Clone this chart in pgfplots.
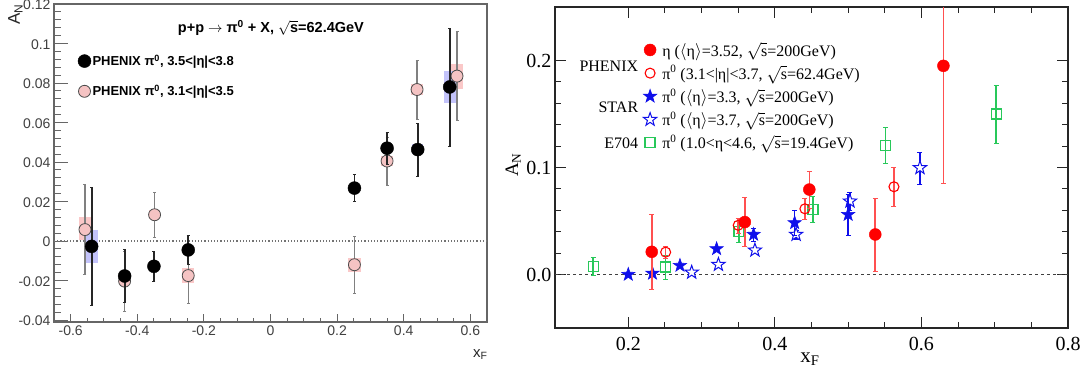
\documentclass[border=0pt]{standalone}
\usepackage{pgfplots}
\pgfplotsset{compat=1.18}
\usepackage{fontspec}
\setmainfont{Liberation Serif}
\newfontfamily\lsans{Liberation Sans}
\newfontfamily\lserif{Liberation Serif}
\usetikzlibrary{calc}
\definecolor{boxpink}{RGB}{250,200,200}
\definecolor{boxblue}{RGB}{195,195,250}
\definecolor{ptpink}{RGB}{245,195,195}
\definecolor{rred}{RGB}{255,0,0}
\definecolor{rerr}{RGB}{255,80,80}
\definecolor{rblue}{RGB}{15,15,235}
\definecolor{rgreen}{RGB}{40,200,90}
\pgfdeclareplotmark{fstar}{%
 \pgfpathmoveto{\pgfpointpolar{90}{\pgfplotmarksize}}%
 \pgfpathlineto{\pgfpointpolar{126}{0.4\pgfplotmarksize}}%
 \pgfpathlineto{\pgfpointpolar{162}{\pgfplotmarksize}}%
 \pgfpathlineto{\pgfpointpolar{198}{0.4\pgfplotmarksize}}%
 \pgfpathlineto{\pgfpointpolar{234}{\pgfplotmarksize}}%
 \pgfpathlineto{\pgfpointpolar{270}{0.4\pgfplotmarksize}}%
 \pgfpathlineto{\pgfpointpolar{306}{\pgfplotmarksize}}%
 \pgfpathlineto{\pgfpointpolar{342}{0.4\pgfplotmarksize}}%
 \pgfpathlineto{\pgfpointpolar{18}{\pgfplotmarksize}}%
 \pgfpathlineto{\pgfpointpolar{54}{0.4\pgfplotmarksize}}%
 \pgfpathclose
 \pgfusepathqfillstroke}

\pgfplotstableread{
x y e
-0.537 -0.0027 0.030
-0.438 -0.0177 0.0135
-0.350 -0.0128 0.0077
-0.247 -0.0045 0.0072
0.252 0.0268 0.0068
0.350 0.0470 0.0080
0.442 0.0463 0.0133
0.538 0.0780 0.0300
}\blackpts
\pgfplotstableread{
x y e
-0.557 0.0058 0.0228
-0.438 -0.0203 0.0150
-0.348 0.0133 0.0113
-0.247 -0.0175 0.0140
0.252 -0.0120 0.0145
0.350 0.0405 0.0120
0.440 0.0767 0.0150
0.560 0.0835 0.0225
}\pinkpts
\pgfplotstableread{
x y e
0.152 0.0078 0.008
0.251 0.0070 0.011
0.351 0.0400 0.010
0.452 0.0610 0.012
0.551 0.1206 0.017
0.702 0.1500 0.027
}\etsf
\pgfplotstableread{
x y e
0.2865 0.0020 0
0.323 0.0093 0
0.3728 0.0227 0
0.429 0.0374 0.004
0.5025 0.0685 0.008
0.598 0.0997 0.015
}\staropen
\pgfplotstableread{
x y e
0.200 0.0000 0
0.233 0.0010 0
0.2705 0.0084 0
0.3205 0.0240 0
0.371 0.0374 0.006
0.427 0.0483 0.012
0.500 0.0560 0.019
}\starfill
\pgfplotstableread{
x y e
0.251 0.0209 0.006
0.350 0.0460 0.007
0.441 0.0614 0.0095
0.5625 0.0820 0.018
}\phxopen
\pgfplotstableread{
x y e
0.232 0.0212 0.035
0.359 0.0490 0.023
0.447 0.0794 0.017
0.537 0.0374 0.034
0.630 0.1950 0.110
}\phxfill

\begin{document}
\begin{tikzpicture}
\path[use as bounding box] (0,0) rectangle (1089pt,373pt);
% ---------------- left panel ----------------
\begin{axis}[
 at={(54pt,51pt)}, anchor=south west, scale only axis, width=433pt, height=318pt,
 clip mode=individual,
 xmin=-0.65, xmax=0.65, ymin=-0.041, ymax=0.12,
 xtick={-0.6,-0.4,-0.2,0,0.2,0.4,0.6}, xticklabels={-0.6,-0.4,-0.2,0,0.2,0.4,0.6},
 ytick={-0.04,-0.02,0,0.02,0.04,0.06,0.08,0.1,0.12},
 yticklabels={-0.04,-0.02,0,0.02,0.04,0.06,0.08,0.1,0.12},
 minor x tick num=3, minor y tick num=4,
 xtick pos=bottom, ytick pos=left, tick align=inside,
 tick label style={font=\lsans\fontsize{14}{16}\selectfont, text=black!75},
 yticklabel style={yshift=-1pt},
 axis line style={black!60, line width=1.2pt},
 tick style={black!60, line width=1pt},
 xtick style={/pgfplots/major tick length=8pt,/pgfplots/minor tick length=4pt},
 ytick style={/pgfplots/major tick length=14pt,/pgfplots/minor tick length=7pt},
 reverse legend,
 legend style={at={(rel axis cs:0.055,0.845)}, anchor=north west, draw=none, fill=none,
   font=\lsans\bfseries\fontsize{13}{15}\selectfont, row sep=15pt, inner sep=0pt,
   nodes={inner sep=1.5pt}},
 legend cell align=left,
 legend image code/.code={\draw[#1] plot coordinates {(0pt,0pt)};},
]
\addplot[black!55, dotted, line width=1.2pt, forget plot] coordinates {(-0.65,0) (0.65,0)};
% systematic boxes
\addplot[fill=boxpink, draw=none, forget plot] coordinates {(-0.575,0.0005) (-0.539,0.0005) (-0.539,0.012) (-0.575,0.012)} --cycle;
\addplot[fill=boxpink, draw=none, forget plot] coordinates {(-0.365,0.011) (-0.331,0.011) (-0.331,0.0158) (-0.365,0.0158)} --cycle;
\addplot[fill=boxpink, draw=none, forget plot] coordinates {(-0.265,-0.021) (-0.229,-0.021) (-0.229,-0.0138) (-0.265,-0.0138)} --cycle;
\addplot[fill=boxpink, draw=none, forget plot] coordinates {(0.232,-0.0155) (0.272,-0.0155) (0.272,-0.0085) (0.232,-0.0085)} --cycle;
\addplot[fill=boxpink, draw=none, forget plot] coordinates {(0.333,0.038) (0.367,0.038) (0.367,0.043) (0.333,0.043)} --cycle;
\addplot[fill=boxpink, draw=none, forget plot] coordinates {(0.423,0.0738) (0.457,0.0738) (0.457,0.0797) (0.423,0.0797)} --cycle;
\addplot[fill=boxpink, draw=none, forget plot] coordinates {(0.542,0.0768) (0.578,0.0768) (0.578,0.0897) (0.542,0.0897)} --cycle;
\addplot[fill=boxblue, draw=none, forget plot] coordinates {(-0.558,-0.011) (-0.517,-0.011) (-0.517,0.0055) (-0.558,0.0055)} --cycle;
\addplot[fill=boxblue, draw=none, forget plot] coordinates {(-0.455,-0.0195) (-0.421,-0.0195) (-0.421,-0.016) (-0.455,-0.016)} --cycle;
\addplot[fill=boxblue, draw=none, forget plot] coordinates {(-0.264,-0.006) (-0.230,-0.006) (-0.230,-0.003) (-0.264,-0.003)} --cycle;
\addplot[fill=boxblue, draw=none, forget plot] coordinates {(0.425,0.044) (0.459,0.044) (0.459,0.049) (0.425,0.049)} --cycle;
\addplot[fill=boxblue, draw=none, forget plot] coordinates {(0.520,0.0697) (0.556,0.0697) (0.556,0.0863) (0.520,0.0863)} --cycle;
% points
\addplot[only marks, mark=*, mark size=6pt, mark options={fill=ptpink, draw=black!70, line width=0.8pt},
 error bars/.cd, y dir=both, y explicit,
 error bar style={black!50, line width=1.4pt}, error mark=-, error mark options={rotate=90, mark size=1.5pt}]
 table[x=x, y=y, y error=e] {\pinkpts};
\addlegendentry{PHENIX π\textsuperscript{0}, 3.1<|η|<3.5}
\addplot[only marks, mark=*, mark size=6.5pt, mark options={fill=black, draw=black},
 error bars/.cd, y dir=both, y explicit,
 error bar style={black!85, line width=1.8pt}, error mark=-, error mark options={rotate=90, mark size=1.5pt}]
 table[x=x, y=y, y error=e] {\blackpts};
\addlegendentry{PHENIX π\textsuperscript{0}, 3.5<|η|<3.8}
\node[font=\lsans\bfseries\fontsize{14.5}{16}\selectfont] at (rel axis cs:0.501,0.925)
 {p+p $\rightarrow$ π\textsuperscript{0} + X, $\sqrt{\mbox{s}}$=62.4GeV};
\node[rotate=90, anchor=base east, font=\lsans\fontsize{17}{18}\selectfont, text=black!85]
 at ($(rel axis cs:0,1)+(-34pt,3pt)$) {A\textsubscript{N}};
\node[anchor=base east, font=\lsans\fontsize{15}{16}\selectfont, text=black!85]
 at ($(rel axis cs:1,0)+(4pt,-35pt)$) {x\textsubscript{F}};
\end{axis}
% ---------------- right panel ----------------
\begin{axis}[
 at={(555pt,45pt)}, anchor=south west, scale only axis, width=513pt, height=321pt,
 clip mode=individual,
 xmin=0.1, xmax=0.8, ymin=-0.05, ymax=0.25,
 xtick={0.2,0.4,0.6,0.8}, xticklabels={0.2,0.4,0.6,0.8},
 ytick={0,0.1,0.2}, yticklabels={0.0,0.1,0.2},
 minor x tick num=3, minor y tick num=4,
 tick align=inside,
 tick label style={font=\lserif\fontsize{20}{22}\selectfont},
 xticklabel style={yshift=-6pt},
 major tick length=11pt, minor tick length=6pt,
 axis line style={line width=1.3pt, black!85},
 tick style={line width=1pt, black!85},
 reverse legend,
 legend style={at={(rel axis cs:0.172,0.895)}, anchor=north west, draw=none, fill=none,
   font=\lserif\fontsize{16}{18}\selectfont, row sep=5pt, inner sep=0pt,
   nodes={inner sep=1.5pt}, column sep=4pt},
 legend cell align=left,
 legend image code/.code={\draw[#1] plot coordinates {(0pt,0pt)};},
]
\addplot[black!75, dashed, line width=0.8pt, forget plot] coordinates {(0.1,0) (0.8,0)};
\addplot[only marks, mark=square, mark size=5pt, mark options={draw=rgreen, line width=1.2pt, fill=none},
 error bars/.cd, y dir=both, y explicit,
 error bar style={rgreen, line width=1.6pt}, error mark=-, error mark options={rotate=90, mark size=2.5pt}]
 table[x=x, y=y, y error=e] {\etsf};
\addlegendentry{π\textsuperscript{0} (1.0<η<4.6, $\sqrt{\mbox{s}}$=19.4GeV)}
\addplot[only marks, mark=fstar, mark size=7pt, mark options={draw=rblue, fill=white, line width=1pt},
 error bars/.cd, y dir=both, y explicit,
 error bar style={rblue, line width=1.6pt}, error mark=-, error mark options={rotate=90, mark size=2.5pt}]
 table[x=x, y=y, y error=e] {\staropen};
\addlegendentry{π\textsuperscript{0} ($\langle$η$\rangle$=3.7, $\sqrt{\mbox{s}}$=200GeV)}
\addplot[only marks, mark=fstar, mark size=7pt, mark options={draw=rblue, fill=rblue, line width=0.6pt},
 error bars/.cd, y dir=both, y explicit,
 error bar style={rblue, line width=1.6pt}, error mark=-, error mark options={rotate=90, mark size=2.5pt}]
 table[x=x, y=y, y error=e] {\starfill};
\addlegendentry{π\textsuperscript{0} ($\langle$η$\rangle$=3.3, $\sqrt{\mbox{s}}$=200GeV)}
\addplot[only marks, mark=o, mark size=5pt, mark options={draw=rred, line width=1.1pt},
 error bars/.cd, y dir=both, y explicit,
 error bar style={rerr, line width=1.6pt}, error mark=-, error mark options={rotate=90, mark size=2.5pt}]
 table[x=x, y=y, y error=e] {\phxopen};
\addlegendentry{π\textsuperscript{0} (3.1<|η|<3.7, $\sqrt{\mbox{s}}$=62.4GeV)}
\addplot[only marks, mark=*, mark size=6pt, mark options={draw=rred, fill=rred},
 error bars/.cd, y dir=both, y explicit,
 error bar style={rerr, line width=1.6pt}, error mark=-, error mark options={rotate=90, mark size=2.5pt}]
 table[x=x, y=y, y error=e] {\phxfill};
\addlegendentry{η ($\langle$η$\rangle$=3.52, $\sqrt{\mbox{s}}$=200GeV)}
\node[anchor=base east, font=\lserif\fontsize{16}{18}\selectfont] at ($(rel axis cs:0.169,0.80)$) {PHENIX};
\node[anchor=base east, font=\lserif\fontsize{16}{18}\selectfont] at ($(rel axis cs:0.169,0.67)$) {STAR};
\node[anchor=base east, font=\lserif\fontsize{16}{18}\selectfont] at ($(rel axis cs:0.169,0.558)$) {E704};
\node[rotate=90, anchor=base, font=\lserif\fontsize{19}{20}\selectfont]
 at ($(rel axis cs:0,0.508)+(-37pt,0pt)$) {A\textsubscript{N}};
\node[anchor=base, font=\lserif\fontsize{21}{22}\selectfont]
 at ($(rel axis cs:0.497,0)+(0pt,-34pt)$) {x\textsubscript{F}};
\end{axis}
\end{tikzpicture}
\end{document}
